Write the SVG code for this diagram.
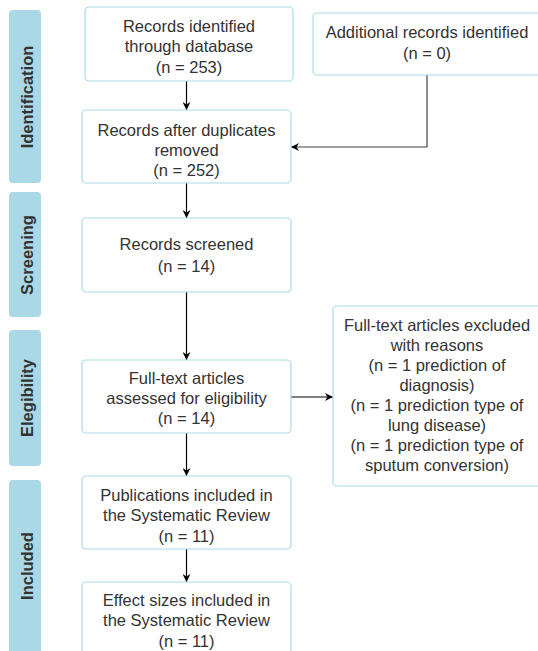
<svg xmlns="http://www.w3.org/2000/svg" width="538" height="651" viewBox="0 0 538 651">
<style>
.bar{fill:#aad8e6;stroke:none}
.box{fill:#fff;stroke:#a9dbe9;stroke-width:1.2}
.t{font-family:"Liberation Sans",Arial,sans-serif;font-size:16.5px;fill:#333;text-anchor:middle}
.lbl{font-family:"Liberation Sans",Arial,sans-serif;font-size:16.5px;font-weight:bold;fill:#333;text-anchor:middle}
.c{fill:none;stroke:#000;stroke-width:1.2}
.c2{fill:none;stroke:#444;stroke-width:1.2}
</style>
<defs>
<marker id="ah" viewBox="0 0 10 10" refX="10" refY="5" markerWidth="8" markerHeight="8" markerUnits="userSpaceOnUse" orient="auto">
<path d="M0,0 L10,5 L0,10 L3,5 Z" fill="#000"/>
</marker>
</defs>
<rect width="538" height="651" fill="#fff"/>
<g id="phase-identification">
<rect class="bar" x="9" y="10" width="32" height="173" rx="4"/>
<text class="lbl" transform="translate(33,97) rotate(-90)">Identification</text>
</g>
<g id="phase-screening">
<rect class="bar" x="9" y="192" width="32" height="125" rx="4"/>
<text class="lbl" transform="translate(33,255) rotate(-90)">Screening</text>
</g>
<g id="phase-eligibility">
<rect class="bar" x="9" y="330" width="32" height="136" rx="4"/>
<text class="lbl" transform="translate(33,398) rotate(-90)">Elegibility</text>
</g>
<g id="phase-included">
<rect class="bar" x="9" y="480" width="32" height="180" rx="4"/>
<text class="lbl" transform="translate(33,566) rotate(-90)">Included</text>
</g>
<g id="connectors">
<path class="c" d="M186.5,81 V110" marker-end="url(#ah)"/>
<path class="c2" d="M427,75 V147 H291" marker-end="url(#ah)"/>
<path class="c" d="M186.5,183 V218" marker-end="url(#ah)"/>
<path class="c" d="M186.5,292 V360" marker-end="url(#ah)"/>
<path class="c" d="M291,397 H333" marker-end="url(#ah)"/>
<path class="c" d="M186.5,433 V476" marker-end="url(#ah)"/>
<path class="c" d="M186.5,549 V582" marker-end="url(#ah)"/>
</g>
<g id="n-database">
<rect class="box" x="85" y="7" width="208" height="74" rx="4"/>
<text class="t" x="189" y="32">Records identified</text>
<text class="t" x="189" y="52">through database</text>
<text class="t" x="189" y="73">(n = 253)</text>
</g>
<g id="n-additional">
<rect class="box" x="313" y="13" width="230" height="62" rx="4"/>
<text class="t" x="427" y="38">Additional records identified</text>
<text class="t" x="427" y="59">(n = 0)</text>
</g>
<g id="n-duplicates">
<rect class="box" x="82" y="110" width="209" height="73" rx="4"/>
<text class="t" x="186.5" y="136">Records after duplicates</text>
<text class="t" x="186.5" y="156">removed</text>
<text class="t" x="186.5" y="176">(n = 252)</text>
</g>
<g id="n-screened">
<rect class="box" x="82" y="218" width="209" height="74" rx="4"/>
<text class="t" x="186.5" y="250">Records screened</text>
<text class="t" x="186.5" y="272">(n = 14)</text>
</g>
<g id="n-fulltext">
<rect class="box" x="82" y="360" width="209" height="73" rx="4"/>
<text class="t" x="186.5" y="384">Full-text articles</text>
<text class="t" x="186.5" y="404">assessed for eligibility</text>
<text class="t" x="186.5" y="424">(n = 14)</text>
</g>
<g id="n-excluded">
<rect class="box" x="333" y="306" width="210" height="180" rx="4"/>
<text class="t" x="437" y="331">Full-text articles excluded</text>
<text class="t" x="437" y="351">with reasons</text>
<text class="t" x="437" y="371">(n = 1 prediction of</text>
<text class="t" x="437" y="391">diagnosis)</text>
<text class="t" x="437" y="411">(n = 1 prediction type of</text>
<text class="t" x="437" y="431">lung disease)</text>
<text class="t" x="437" y="451">(n = 1 prediction type of</text>
<text class="t" x="437" y="471">sputum conversion)</text>
</g>
<g id="n-publications">
<rect class="box" x="82" y="476" width="209" height="73" rx="4"/>
<text class="t" x="186.5" y="501">Publications included in</text>
<text class="t" x="186.5" y="521">the Systematic Review</text>
<text class="t" x="186.5" y="542">(n = 11)</text>
</g>
<g id="n-effect">
<rect class="box" x="82" y="582" width="209" height="80" rx="4"/>
<text class="t" x="186.5" y="606">Effect sizes included in</text>
<text class="t" x="186.5" y="626">the Systematic Review</text>
<text class="t" x="186.5" y="647">(n = 11)</text>
</g>
</svg>
